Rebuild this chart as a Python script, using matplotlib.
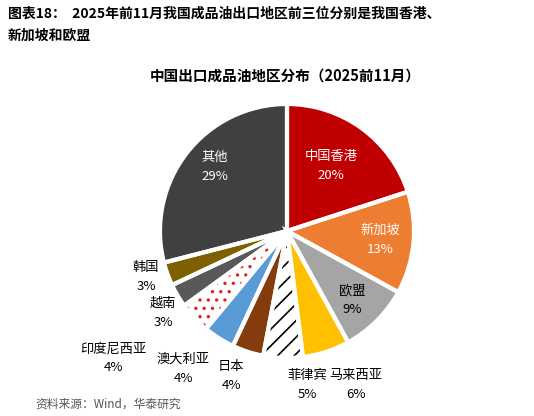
import matplotlib
matplotlib.use("Agg")
import matplotlib.pyplot as plt

plt.rcParams['font.family'] = ['Noto Sans CJK SC', 'DejaVu Sans']
plt.rcParams['hatch.linewidth'] = 1.2

regions = ['中国香港', '新加坡', '欧盟', '马来西亚', '菲律宾', '日本', '澳大利亚', '印度尼西亚', '越南', '韩国', '其他']
shares = [20, 13, 9, 6, 5, 4, 4, 4, 3, 3, 29]
colors = ['#C00000', '#ED7D31', '#A5A5A5', '#FFC000', '#FFFFFF', '#843C0C', '#5B9BD5', '#FFFFFF', '#595959', '#7F6000', '#404040']
hatches = [None, None, None, None, '//', None, None, '..', None, None, None]
hatch_colors = [None, None, None, None, 'black', None, None, '#E02020', None, None, None]

W, H = 534, 416
fig = plt.figure(figsize=(W/100, H/100), dpi=100)
cx, cy, r = 287, 231, 127
ax = fig.add_axes([(cx-r)/W, 1-(cy+r)/H, 2*r/W, 2*r/H])
wedges, _ = ax.pie(shares, colors=colors, startangle=90, counterclock=False,
                   wedgeprops=dict(linewidth=0))
for w, h, hc in zip(wedges, hatches, hatch_colors):
    if h:
        w.set_hatch(h)
        w.set_edgecolor(hc)
        if h == '//':
            w.set_linewidth(0)
ax.pie(shares, colors=['none']*len(shares), startangle=90, counterclock=False,
       wedgeprops=dict(linewidth=3, edgecolor='white', fill=False))
ax.set_xlim(-1, 1); ax.set_ylim(-1, 1)
ax.set_aspect('equal')
ax.axis('off')

label_pos = [(331, 166, 'white'), (380, 240, 'white'), (352, 300, 'black'), (356, 385, 'black'),
             (307, 385, 'black'), (231, 376, 'black'), (183, 369, 'black'), (113, 358, 'black'),
             (163, 313, 'black'), (146, 277, 'black'), (215, 167, 'white')]
for name, v, (x, y, c) in zip(regions, shares, label_pos):
    fig.text(x/W, 1-y/H, f'{name}\n{v}%', color=c, fontsize=9.5, ha='center', va='center',
             linespacing=1.6)

fig.text(8/W, 1-14/H, '图表18：  2025年前11月我国成品油出口地区前三位分别是我国香港、',
         fontsize=10, fontweight='bold', va='center', ha='left')
fig.text(8/W, 1-36/H, '新加坡和欧盟', fontsize=10, fontweight='bold', va='center', ha='left')
fig.text(285/W, 1-76/H, '中国出口成品油地区分布（2025前11月）', fontsize=10.5, fontweight='bold',
         va='center', ha='center')
fig.text(35/W, 1-404/H, '资料来源：Wind，华泰研究', fontsize=8.5, color='#555555', va='center', ha='left')

fig.savefig('out.png', dpi=100)
